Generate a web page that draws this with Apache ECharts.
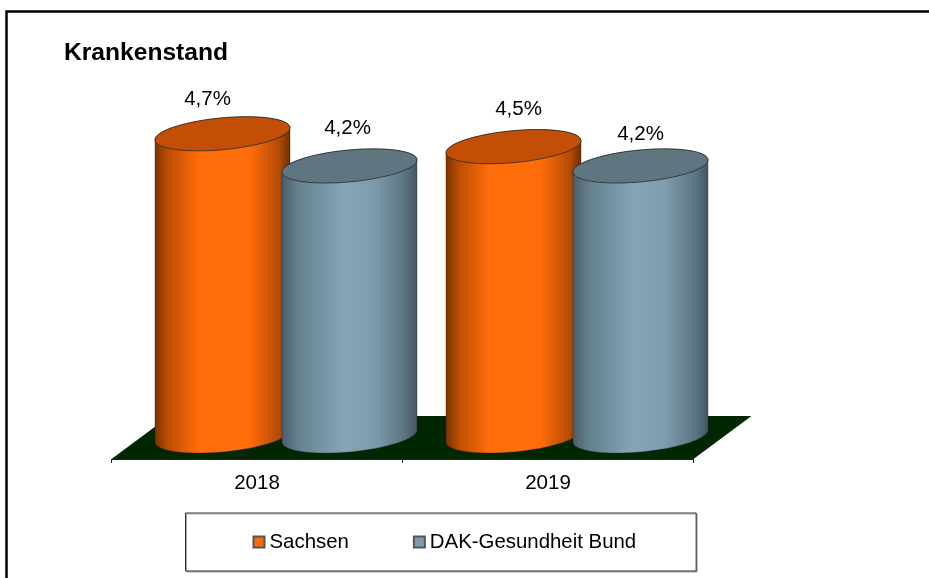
<!DOCTYPE html>
<html>
<head>
<meta charset="utf-8">
<style>html,body{margin:0;padding:0;background:#fff}#chart{width:929px;height:578px}</style>
<script src="https://cdn.jsdelivr.net/npm/echarts@6/dist/echarts.min.js"></script>
</head>
<body>
<div id="chart"></div>
<script>
const categories = ['2018', '2019'];
const sachsen = [4.7, 4.5];
const dakBund = [4.2, 4.2];

// Hand placement of the value labels relative to each cylinder top.
const sachsenLabelShift = [[-15, -34], [5, -37]];
const dakLabelShift = [[-2, -38], [0, -32]];

const FONT = '"Liberation Sans", Arial, sans-serif';
const DEPTH_X = 58;          // horizontal run of the floor from front to back
const DEPTH_Y = 43;          // vertical run of the floor
const AXIS_DROP = 23;        // category axis sits in front of the cylinder bases
const SPREAD = 63.5;         // half the distance between the two cylinders of a group
const A = 67.8, B = 15.9, TILT = 5.4 * Math.PI / 180; // cylinder cap ellipse

function ellipsePoint(cx, cy, t) {
  const x = A * Math.cos(t), y = B * Math.sin(t);
  return [
    cx + x * Math.cos(TILT) - y * Math.sin(TILT),
    cy - x * Math.sin(TILT) - y * Math.cos(TILT)
  ];
}

// Parameter of the rightmost point on the cap ellipse.
const T_EDGE = Math.atan2(-B * Math.sin(TILT), A * Math.cos(TILT));

function arc(cx, cy, from, to, steps) {
  const pts = [];
  for (let i = 0; i <= steps; i++) {
    pts.push(ellipsePoint(cx, cy, from + (to - from) * i / steps));
  }
  return pts;
}

function sideGradient(stops) {
  return new echarts.graphic.LinearGradient(0, 0, 1, 0, stops);
}

function cylinderRenderer(side, bodyStops, capColor, labelShift) {
  return function (params, api) {
    const idx = api.value(0);
    const value = api.value(1);
    const top = api.coord([idx, value]);
    const base = api.coord([idx, 0]);
    const cx = top[0] + DEPTH_X / 2 + side * SPREAD;
    // Body outline: back half of the top cap, then the front half of the base.
    const body = arc(cx, top[1], T_EDGE, T_EDGE + Math.PI, 30)
      .concat(arc(cx, base[1], T_EDGE + Math.PI, T_EDGE + 2 * Math.PI, 60));
    const cap = arc(cx, top[1], 0, 2 * Math.PI, 80);
    const shift = labelShift[idx];
    return {
      type: 'group',
      children: [
        {
          type: 'polygon',
          shape: { points: body },
          style: { fill: sideGradient(bodyStops), stroke: 'rgba(30,30,30,0.55)', lineWidth: 0.6 }
        },
        {
          type: 'polygon',
          shape: { points: cap },
          style: { fill: capColor, stroke: '#2a2a2a', lineWidth: 0.8 }
        },
        {
          type: 'text',
          style: {
            x: cx + shift[0],
            y: top[1] + shift[1],
            text: value.toFixed(1).replace('.', ',') + '%',
            fill: '#000',
            font: '20.5px ' + FONT,
            align: 'center',
            verticalAlign: 'middle'
          }
        }
      ]
    };
  };
}

function renderFloor(params, api) {
  const c = params.coordSys;
  const yFront = c.y + c.height + AXIS_DROP;
  return {
    type: 'polygon',
    shape: {
      points: [
        [c.x, yFront],
        [c.x + c.width, yFront],
        [c.x + c.width + DEPTH_X, yFront - DEPTH_Y],
        [c.x + DEPTH_X, yFront - DEPTH_Y]
      ]
    },
    style: { fill: '#012602' }
  };
}

const chart = echarts.init(document.getElementById('chart'), null, { renderer: 'canvas' });
chart.setOption({
  animation: false,
  backgroundColor: '#fff',
  title: {
    text: 'Krankenstand',
    left: 64,
    top: 41,
    padding: 0,
    textStyle: { fontFamily: FONT, fontSize: 24.6, fontWeight: 'bold', color: '#000' }
  },
  grid: { left: 111.5, width: 582, top: 114.5, height: 321.5 },
  xAxis: {
    type: 'category',
    data: categories,
    offset: AXIS_DROP,
    z: 5,
    axisLine: { onZero: false, lineStyle: { color: '#222', width: 1 } },
    axisTick: { show: true, length: 4, lineStyle: { color: '#222', width: 1 } },
    axisLabel: { fontFamily: FONT, fontSize: 20.5, color: '#000', margin: 14 }
  },
  yAxis: { type: 'value', min: 0, max: 5, show: false, splitLine: { show: false } },
  legend: {
    data: ['Sachsen', 'DAK-Gesundheit Bund'],
    selectedMode: false,
    left: 185.5,
    top: 513,
    orient: 'horizontal',
    padding: [19, 60, 19, 67],
    itemGap: 64,
    itemWidth: 11,
    itemHeight: 11,
    icon: 'rect',
    backgroundColor: '#fff',
    borderColor: '#333',
    borderWidth: 1,
    shadowColor: '#aaa',
    shadowBlur: 0,
    shadowOffsetX: 1,
    shadowOffsetY: 1,
    textStyle: { fontFamily: FONT, fontSize: 20.4, color: '#000', padding: [2, 0, 0, 0] }
  },
  series: [
    {
      type: 'custom',
      name: 'floor',
      coordinateSystem: 'cartesian2d',
      clip: false,
      silent: true,
      z: 1,
      data: [[0, 0]],
      renderItem: renderFloor
    },
    {
      type: 'custom',
      name: 'Sachsen',
      coordinateSystem: 'cartesian2d',
      clip: false,
      z: 2,
      itemStyle: { color: '#ff6a0a', borderColor: '#555', borderWidth: 1 },
      data: categories.map((c, i) => [i, sachsen[i]]),
      renderItem: cylinderRenderer(-1, [
        { offset: 0, color: '#7a3200' },
        { offset: 0.1, color: '#bd4e04' },
        { offset: 0.32, color: '#ff6c0a' },
        { offset: 0.7, color: '#ff6c0a' },
        { offset: 0.92, color: '#b34a04' },
        { offset: 1, color: '#6e2c00' }
      ], '#c24f05', sachsenLabelShift)
    },
    {
      type: 'custom',
      name: 'DAK-Gesundheit Bund',
      coordinateSystem: 'cartesian2d',
      clip: false,
      z: 3,
      itemStyle: { color: '#7d9cad', borderColor: '#555', borderWidth: 1 },
      data: categories.map((c, i) => [i, dakBund[i]]),
      renderItem: cylinderRenderer(1, [
        { offset: 0, color: '#4a5d68' },
        { offset: 0.12, color: '#64808e' },
        { offset: 0.45, color: '#86a5b7' },
        { offset: 0.68, color: '#7d9cad' },
        { offset: 0.9, color: '#5d7684' },
        { offset: 1, color: '#44555f' }
      ], '#5f7681', dakLabelShift)
    }
  ],
  graphic: [
    {
      type: 'polyline',
      silent: true,
      shape: { points: [[6.5, 578], [6.5, 11.5], [929, 11.5]] },
      style: { stroke: '#000', lineWidth: 2.5, fill: 'none' }
    }
  ]
});
</script>
</body>
</html>
